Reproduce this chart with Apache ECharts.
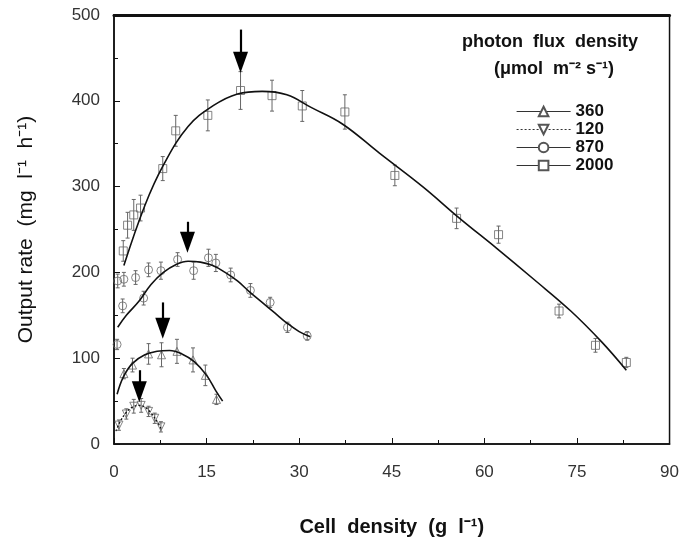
<!DOCTYPE html>
<html>
<head>
<meta charset="utf-8">
<script src="https://cdn.jsdelivr.net/npm/echarts@6/dist/echarts.min.js"></script>
<style>
  html, body { margin: 0; padding: 0; background: #fff; }
  #chart { width: 682px; height: 542px; }
</style>
</head>
<body>
<div id="chart"></div>
<script>
// tick labels
const xTicks = [0, 15, 30, 45, 60, 75, 90];
const yTicks = [0, 100, 200, 300, 400, 500];

// 2000 umol m-2 s-1 (squares)
const x2000 = [1.5, 2.2, 3.2, 4.3, 7.9, 10.0, 15.2, 20.5, 25.6, 30.5, 37.4, 45.5, 55.5, 62.3, 72.1, 78.0, 83.0];
const y2000 = [225, 255, 267, 275, 321, 365, 383, 412, 406, 394, 387, 313, 263, 244, 155, 115, 95];
const e2000 = [12, 15, 18, 15, 14, 18, 18, 22, 18, 18, 20, 12, 12, 10, 8, 8, 6];
const fitX2000 = [1.6, 5, 8, 12, 16, 20, 24, 28, 32, 37, 43, 50, 56, 62, 68, 74, 79, 83];
const fitY2000 = [208, 278, 325, 370, 394, 408, 411, 407, 392, 373, 339, 300, 263, 228, 192, 155, 119, 86];

// 870 (circles)
const x870 = [0.5, 0.6, 1.6, 1.4, 3.5, 4.8, 5.6, 7.6, 10.3, 12.9, 15.3, 16.5, 18.9, 22.1, 25.3, 28.1, 31.3];
const y870 = [116, 190, 192, 161, 194, 170, 203, 202, 215, 202, 217, 211, 197, 179, 165, 136, 126];
const e870 = [6, 8, 8, 8, 8, 8, 8, 10, 8, 10, 10, 10, 8, 8, 6, 6, 5];
const fitX870 = [0.6, 2, 4, 6, 8, 10, 12, 14, 16, 18, 20, 22, 24, 26, 28, 30, 31.8];
const fitY870 = [136, 150, 166, 186, 200, 209, 213, 212, 208, 200, 190, 177, 165, 153, 141, 131, 125];

// 360 (triangles)
const x360 = [1.6, 3.0, 5.6, 7.7, 10.2, 12.8, 14.8, 16.6];
const y360 = [82, 92, 105, 104, 108, 98, 80, 52];
const e360 = [6, 8, 12, 14, 14, 14, 12, 6];
const fitX360 = [0.5, 1.5, 3, 5, 7, 9, 11, 13, 15, 16.5, 17.6];
const fitY360 = [58, 78, 94, 104, 108, 109, 105, 96, 80, 62, 50];

// 120 (inverted triangles)
const x120 = [0.8, 2.0, 3.2, 4.4, 5.6, 6.6, 7.6];
const y120 = [22, 35, 44, 45, 38, 30, 20];
const e120 = [6, 6, 8, 8, 6, 6, 6];
const fitX120 = [0.3, 1, 2, 3, 4, 5, 6, 7, 7.6];
const fitY120 = [15, 26, 37, 43, 45, 43, 36, 26, 18];

// arrows marking the optimum cell density (tail -> head centre)
const arrowX = [20.5, 11.9, 7.9, 4.1];
const arrowTail = [483, 259, 165, 86];
const arrowTip = [445, 235, 135, 61];

const font = '"Liberation Sans", Arial, sans-serif';
const markColor = '#666';

const zip = (xs, ys) => xs.map((x, i) => [x, ys[i]]);

function fitLine(name, xs, ys, symbol, rotate, dashed) {
  return {
    name: name,
    type: 'line',
    data: zip(xs, ys),
    smooth: 0.4,
    showSymbol: false,
    symbol: symbol,
    symbolRotate: rotate,
    symbolSize: 10,
    itemStyle: { color: '#555', borderWidth: 1 },
    lineStyle: { color: '#111', width: dashed ? 1.3 : 1.6, type: dashed ? [2, 2] : 'solid' },
    z: 4,
    silent: true
  };
}

function points(name, xs, ys, symbol, rotate) {
  return {
    name: name,
    type: 'scatter',
    data: zip(xs, ys),
    symbol: symbol,
    symbolRotate: rotate,
    symbolSize: 8,
    itemStyle: { color: 'rgba(255,255,255,0)', borderColor: markColor, borderWidth: 1 },
    z: 3,
    silent: true
  };
}

function errorBars(name, xs, ys, es) {
  return {
    name: name,
    type: 'custom',
    silent: true,
    z: 3,
    data: xs.map((x, i) => [x, ys[i] - es[i], ys[i] + es[i]]),
    renderItem: (params, api) => {
      const lo = api.coord([api.value(0), api.value(1)]);
      const hi = api.coord([api.value(0), api.value(2)]);
      const st = { stroke: markColor, lineWidth: 1 };
      return {
        type: 'group',
        children: [
          { type: 'line', shape: { x1: lo[0], y1: lo[1], x2: hi[0], y2: hi[1] }, style: st },
          { type: 'line', shape: { x1: lo[0] - 2, y1: lo[1], x2: lo[0] + 2, y2: lo[1] }, style: st },
          { type: 'line', shape: { x1: hi[0] - 2, y1: hi[1], x2: hi[0] + 2, y2: hi[1] }, style: st }
        ]
      };
    }
  };
}

const arrowSeries = {
  name: 'arrows',
  type: 'line',
  data: [],
  silent: true,
  markLine: {
    silent: true,
    animation: false,
    symbol: ['none', 'triangle'],
    symbolSize: [15, 21],
    label: { show: false },
    lineStyle: { color: '#000', width: 2.2, type: 'solid' },
    itemStyle: { color: '#000' },
    data: arrowX.map((x, i) => [
      { coord: [x, arrowTail[i]] },
      { coord: [x, arrowTip[i]] }
    ])
  }
};

const chart = echarts.init(document.getElementById('chart'), null, { renderer: 'canvas' });

chart.setOption({
  animation: false,
  backgroundColor: '#fff',
  textStyle: { fontFamily: font },
  grid: {
    left: 114, right: 11, top: 15, bottom: 98,
    show: true, borderColor: '#111', borderWidth: 1.5
  },
  legend: {
    data: ['360', '120', '870', '2000'],
    orient: 'vertical',
    left: 511,
    top: 98,
    itemWidth: 54,
    itemHeight: 12,
    itemGap: 1,
    selectedMode: false,
    lineStyle: { width: 1.2, color: '#333' },
    textStyle: { fontFamily: font, fontSize: 17, fontWeight: 'bold', color: '#111' }
  },
  graphic: [
    {
      type: 'text', left: 462, top: 33,
      style: { text: 'photon  flux  density', font: 'bold 18px ' + font, fill: '#111' }
    },
    {
      type: 'text', left: 494, top: 60,
      style: { text: '(\u03bcmol  m\u207b\u00b2 s\u207b\u00b9)', font: 'bold 18px ' + font, fill: '#111' }
    }
  ],
  xAxis: [{
    type: 'value',
    min: 0, max: 90, interval: 15,
    name: 'Cell  density  (g  l\u207b\u00b9)',
    nameLocation: 'middle',
    nameGap: 73,
    nameTextStyle: { fontFamily: font, fontSize: 20, fontWeight: 'bold', color: '#111' },
    axisLine: { lineStyle: { color: '#111', width: 1.5 } },
    axisTick: { inside: true, length: 6, lineStyle: { color: '#111' } },
    minorTick: { show: true, splitNumber: 2, length: 4, lineStyle: { color: '#111' } },
    axisLabel: { margin: 20, fontSize: 17, color: '#333', fontFamily: font,
      formatter: v => (xTicks.indexOf(v) >= 0 ? String(v) : '') },
    splitLine: { show: false }
  }, {
    type: 'value', position: 'top',
    min: 0, max: 90,
    axisLine: { show: true, lineStyle: { color: '#111', width: 3 } },
    axisTick: { show: false },
    axisLabel: { show: false },
    splitLine: { show: false }
  }],
  yAxis: {
    type: 'value',
    min: 0, max: 500, interval: 100,
    name: 'Output rate  (mg  l\u207b\u00b9  h\u207b\u00b9)',
    nameLocation: 'middle',
    nameGap: 77,
    nameTextStyle: { fontFamily: font, fontSize: 21, color: '#111' },
    axisLine: { show: true, lineStyle: { color: '#111', width: 1.5 } },
    axisTick: { inside: true, length: 6, lineStyle: { color: '#111' } },
    minorTick: { show: true, splitNumber: 2, length: 4, lineStyle: { color: '#111' } },
    axisLabel: { margin: 14, fontSize: 17, color: '#333', fontFamily: font,
      formatter: v => (yTicks.indexOf(v) >= 0 ? String(v) : '') },
    splitLine: { show: false }
  },
  series: [
    fitLine('360', fitX360, fitY360, 'emptyTriangle', 0, false),
    fitLine('120', fitX120, fitY120, 'emptyTriangle', 180, true),
    fitLine('870', fitX870, fitY870, 'emptyCircle', 0, false),
    fitLine('2000', fitX2000, fitY2000, 'emptyRect', 0, false),
    errorBars('err360', x360, y360, e360),
    errorBars('err120', x120, y120, e120),
    errorBars('err870', x870, y870, e870),
    errorBars('err2000', x2000, y2000, e2000),
    points('pts360', x360, y360, 'triangle', 0),
    points('pts120', x120, y120, 'triangle', 180),
    points('pts870', x870, y870, 'circle', 0),
    points('pts2000', x2000, y2000, 'rect', 0),
    arrowSeries
  ]
});
</script>
</body>
</html>
